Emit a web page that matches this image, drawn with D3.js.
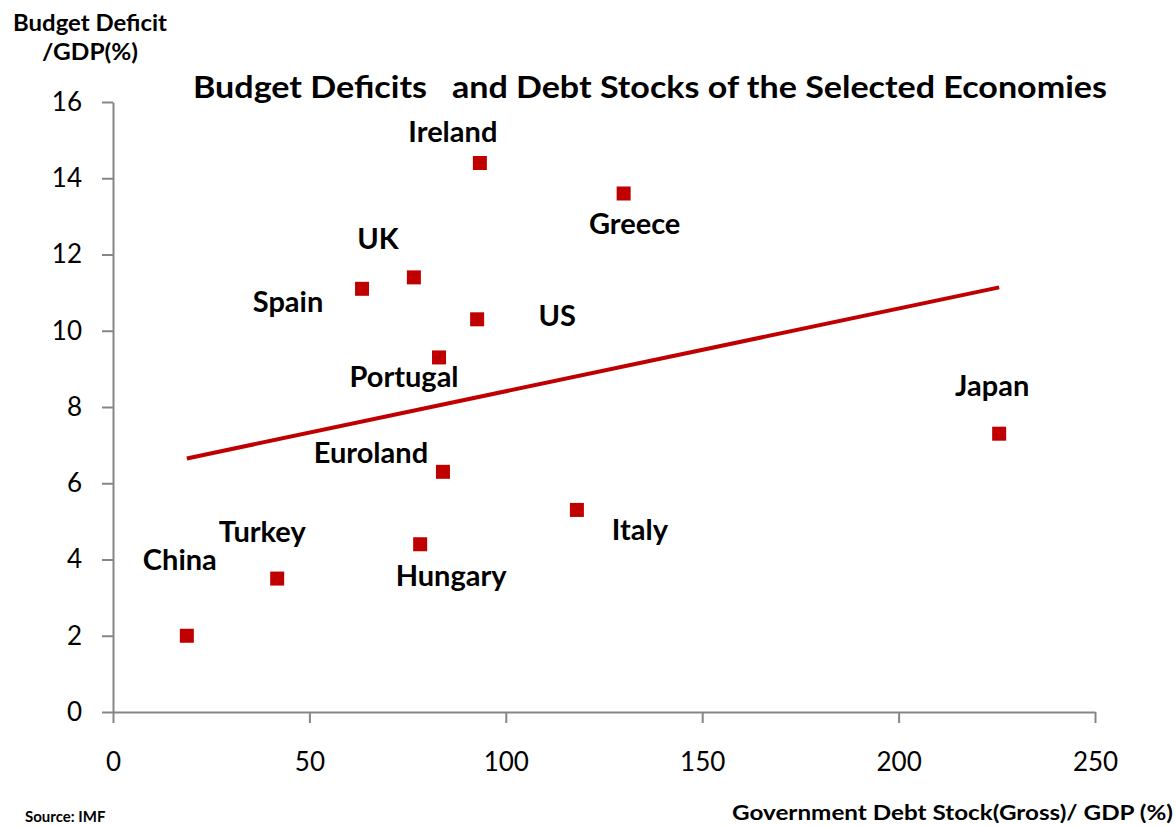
<!DOCTYPE html>
<html>
<head>
<meta charset="utf-8">
<script src="https://cdn.jsdelivr.net/npm/d3@7"></script>
<style>
  body { margin: 0; background: #fff; }
  svg { display: block; font-family: Lato, "Open Sans", sans-serif; }
</style>
</head>
<body>
<svg width="1176" height="826"></svg>
<script>
// data
var countries = ["China", "Turkey", "Spain", "UK", "Ireland", "Greece", "US", "Portugal", "Euroland", "Hungary", "Italy", "Japan"];
var debtStock = [18.8, 41.8, 63.4, 76.6, 93.4, 130.0, 92.7, 83.0, 84.0, 78.2, 118.1, 225.6];
var budgetDeficit = [2.0, 3.5, 11.1, 11.4, 14.4, 13.6, 10.3, 9.3, 6.3, 4.4, 5.3, 7.3];
var xTicks = [0, 50, 100, 150, 200, 250];
var yTicks = [0, 2, 4, 6, 8, 10, 12, 14, 16];

// where each country name sits relative to its marker
var labelDx = [-7, -15, -74, -36, -27, 11, 80, -35, -72, 31, 63, -7];
var labelDy = [-76, -47, 13, -39, -31, 30, -4, 19, -19, 31, 20, -48];

var red = "#c00000", axisGrey = "#868686";

var svg = d3.select("svg");

var x = d3.scaleLinear().domain([0, 250]).range([113, 1095]);
var y = d3.scaleLinear().domain([0, 16]).range([712, 102]);

var points = countries.map(function(c, i) {
  return {name: c, x: debtStock[i], y: budgetDeficit[i], dx: labelDx[i], dy: labelDy[i]};
});

// axes
var yAxis = svg.append("g")
  .attr("transform", "translate(" + x(0) + ",0)")
  .call(d3.axisLeft(y).tickValues(yTicks).tickSize(11).tickSizeOuter(0).tickPadding(20).tickFormat(d3.format("d")));
var xAxis = svg.append("g")
  .attr("transform", "translate(0," + y(0) + ")")
  .call(d3.axisBottom(x).tickValues(xTicks).tickSize(11).tickSizeOuter(0).tickPadding(30).tickFormat(d3.format("d")));

[xAxis, yAxis].forEach(function(a) {
  a.select(".domain").attr("stroke", axisGrey).attr("stroke-width", 2);
  a.selectAll(".tick line").attr("stroke", axisGrey).attr("stroke-width", 2);
  a.selectAll(".tick text")
    .attr("fill", "#000")
    .style("font-family", "Lato, sans-serif")
    .style("font-size", "26px");
});

// linear trend line (least squares)
var mx = d3.mean(debtStock), my = d3.mean(budgetDeficit);
var sxy = d3.sum(debtStock, function(v, i) { return (v - mx) * (budgetDeficit[i] - my); });
var sxx = d3.sum(debtStock, function(v) { return (v - mx) * (v - mx); });
var slope = sxy / sxx, intercept = my - slope * mx;
var ext = d3.extent(debtStock);

svg.append("line")
  .attr("x1", x(ext[0])).attr("y1", y(intercept + slope * ext[0]))
  .attr("x2", x(ext[1])).attr("y2", y(intercept + slope * ext[1]))
  .attr("stroke", red)
  .attr("stroke-width", 4);

// markers
svg.append("g").selectAll("rect")
  .data(points)
  .enter()
  .append("rect")
  .attr("x", function(d) { return x(d.x) - 7; })
  .attr("y", function(d) { return y(d.y) - 7; })
  .attr("width", 14)
  .attr("height", 14)
  .attr("fill", red);

// country names
svg.append("g").selectAll("text")
  .data(points)
  .enter()
  .append("text")
  .attr("x", function(d) { return x(d.x) + d.dx; })
  .attr("y", function(d) { return y(d.y) + d.dy; })
  .attr("dy", "0.36em")
  .attr("text-anchor", "middle")
  .style("font-weight", "bold")
  .style("font-size", "29px")
  .text(function(d) { return d.name; });

// titles
svg.append("text")
  .attr("x", 193).attr("y", 98)
  .attr("textLength", 914).attr("lengthAdjust", "spacingAndGlyphs")
  .style("white-space", "pre")
  .style("font-weight", "bold")
  .style("font-size", "31px")
  .text("Budget Deficits   and Debt Stocks of the Selected Economies");

svg.append("text")
  .attr("x", 13).attr("y", 31)
  .attr("textLength", 154).attr("lengthAdjust", "spacingAndGlyphs")
  .style("font-weight", "bold")
  .style("font-size", "22px")
  .text("Budget Deficit");
svg.append("text")
  .attr("x", 42).attr("y", 60)
  .attr("textLength", 96).attr("lengthAdjust", "spacingAndGlyphs")
  .style("font-weight", "bold")
  .style("font-size", "22px")
  .text("/GDP(%)");

svg.append("text")
  .attr("x", 732).attr("y", 820)
  .attr("textLength", 441).attr("lengthAdjust", "spacingAndGlyphs")
  .style("font-weight", "bold")
  .style("font-size", "20px")
  .text("Government Debt Stock(Gross)/ GDP (%)");

svg.append("text")
  .attr("x", 25).attr("y", 822)
  .style("font-weight", "bold")
  .style("font-size", "15px")
  .text("Source: IMF");
</script>
</body>
</html>
